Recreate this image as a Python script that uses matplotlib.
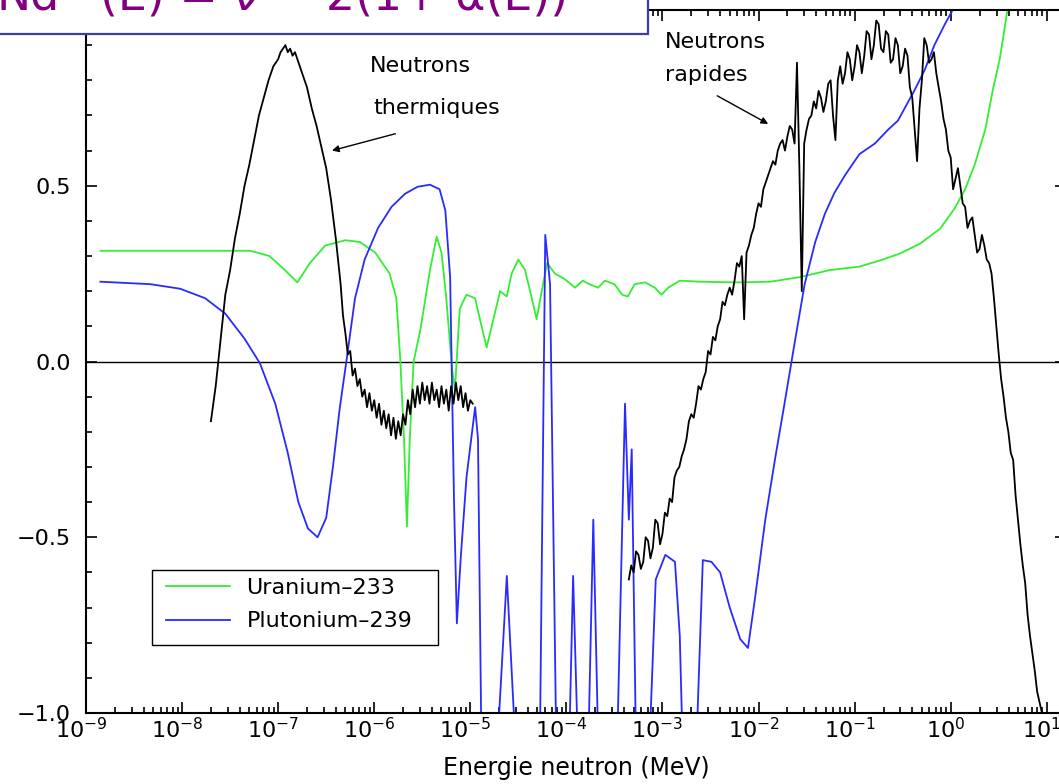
import numpy as np
import matplotlib
matplotlib.use("Agg")
import matplotlib.pyplot as plt
import matplotlib.transforms as mtransforms
from matplotlib.patches import Rectangle
from matplotlib.ticker import LogLocator, MultipleLocator, FuncFormatter, NullFormatter

plt.rcParams["font.family"] = ["DejaVu Sans"]
plt.rcParams["mathtext.fontset"] = "dejavusans"
plt.rcParams["axes.unicode_minus"] = True

# ---- data: (log10 of neutron energy in MeV, Nd) ----
# Unlabelled reference spectrum, thermal bump
black_thermal = [
    (-7.70, -0.17), (-7.65, -0.07), (-7.60, 0.06), (-7.55, 0.19), (-7.50, 0.26),
    (-7.45, 0.35), (-7.40, 0.42), (-7.35, 0.50), (-7.30, 0.56), (-7.25, 0.63),
    (-7.20, 0.70), (-7.15, 0.75), (-7.10, 0.80), (-7.05, 0.84), (-7.00, 0.86),
    (-6.975, 0.88), (-6.95, 0.89), (-6.925, 0.90), (-6.90, 0.88), (-6.875, 0.89),
    (-6.85, 0.87), (-6.825, 0.88), (-6.80, 0.86), (-6.75, 0.82), (-6.70, 0.78),
    (-6.65, 0.72), (-6.60, 0.67), (-6.55, 0.61), (-6.50, 0.55), (-6.45, 0.46),
    (-6.40, 0.35), (-6.35, 0.22), (-6.325, 0.13), (-6.30, 0.08), (-6.275, 0.02),
    (-6.25, 0.03), (-6.225, -0.04), (-6.20, -0.02), (-6.175, -0.07), (-6.15, -0.05),
    (-6.125, -0.10), (-6.10, -0.08), (-6.075, -0.13), (-6.05, -0.09), (-6.025, -0.14),
    (-6.00, -0.11), (-5.975, -0.16), (-5.95, -0.12), (-5.925, -0.18), (-5.90, -0.14),
    (-5.875, -0.19), (-5.85, -0.15), (-5.825, -0.21), (-5.80, -0.16), (-5.775, -0.22),
    (-5.75, -0.17), (-5.725, -0.21), (-5.70, -0.15), (-5.675, -0.18), (-5.65, -0.11),
    (-5.625, -0.15), (-5.60, -0.08), (-5.575, -0.13), (-5.55, -0.07), (-5.525, -0.12),
    (-5.50, -0.06), (-5.475, -0.11), (-5.45, -0.07), (-5.425, -0.12), (-5.40, -0.06),
    (-5.375, -0.11), (-5.35, -0.08), (-5.325, -0.13), (-5.30, -0.07), (-5.275, -0.12),
    (-5.25, -0.08), (-5.225, -0.14), (-5.20, -0.07), (-5.175, -0.12), (-5.15, -0.06),
    (-5.125, -0.11), (-5.10, -0.07), (-5.075, -0.13), (-5.05, -0.09), (-5.025, -0.14),
    (-5.00, -0.11), (-4.975, -0.12),
]

# Unlabelled reference spectrum, fast bump
black_fast = [
    (-3.350, -0.62), (-3.325, -0.58), (-3.300, -0.60), (-3.275, -0.54), (-3.250, -0.55),
    (-3.225, -0.59), (-3.200, -0.57), (-3.175, -0.50), (-3.150, -0.51), (-3.125, -0.56),
    (-3.100, -0.53), (-3.075, -0.45), (-3.050, -0.46), (-3.025, -0.52), (-3.000, -0.49),
    (-2.975, -0.43), (-2.950, -0.44), (-2.925, -0.39), (-2.900, -0.40), (-2.875, -0.33),
    (-2.850, -0.31), (-2.825, -0.30), (-2.800, -0.27), (-2.775, -0.25), (-2.750, -0.22),
    (-2.725, -0.17), (-2.700, -0.15), (-2.675, -0.16), (-2.650, -0.12), (-2.625, -0.07),
    (-2.600, -0.08), (-2.575, -0.05), (-2.550, -0.03), (-2.525, 0.03), (-2.500, 0.02),
    (-2.475, 0.07), (-2.450, 0.06), (-2.425, 0.10), (-2.400, 0.12), (-2.375, 0.17),
    (-2.350, 0.16), (-2.325, 0.19), (-2.300, 0.21), (-2.275, 0.19), (-2.250, 0.23),
    (-2.225, 0.28), (-2.200, 0.27), (-2.175, 0.30), (-2.150, 0.12), (-2.125, 0.31),
    (-2.100, 0.33), (-2.075, 0.36), (-2.050, 0.38), (-2.025, 0.42), (-2.000, 0.45),
    (-1.975, 0.44), (-1.950, 0.49), (-1.925, 0.51), (-1.900, 0.53), (-1.875, 0.55),
    (-1.850, 0.57), (-1.825, 0.56), (-1.800, 0.60), (-1.775, 0.62), (-1.750, 0.63),
    (-1.725, 0.60), (-1.700, 0.64), (-1.675, 0.67), (-1.650, 0.66), (-1.625, 0.62),
    (-1.600, 0.85), (-1.575, 0.55), (-1.550, 0.20), (-1.525, 0.62), (-1.500, 0.66),
    (-1.475, 0.69), (-1.450, 0.70), (-1.425, 0.74), (-1.400, 0.72), (-1.375, 0.77),
    (-1.350, 0.75), (-1.325, 0.71), (-1.300, 0.74), (-1.275, 0.79), (-1.250, 0.80),
    (-1.225, 0.70), (-1.200, 0.63), (-1.175, 0.80), (-1.150, 0.84), (-1.125, 0.79),
    (-1.100, 0.82), (-1.075, 0.88), (-1.050, 0.86), (-1.025, 0.80), (-1.000, 0.84),
    (-0.975, 0.90), (-0.950, 0.88), (-0.925, 0.82), (-0.900, 0.87), (-0.875, 0.94),
    (-0.850, 0.93), (-0.825, 0.86), (-0.800, 0.90), (-0.775, 0.97), (-0.750, 0.96),
    (-0.725, 0.89), (-0.700, 0.88), (-0.675, 0.94), (-0.650, 0.93), (-0.625, 0.85),
    (-0.600, 0.86), (-0.575, 0.92), (-0.550, 0.90), (-0.525, 0.82), (-0.500, 0.84),
    (-0.475, 0.89), (-0.450, 0.87), (-0.425, 0.78), (-0.400, 0.75), (-0.375, 0.66),
    (-0.350, 0.57), (-0.325, 0.72), (-0.300, 0.80), (-0.275, 0.92), (-0.250, 0.90),
    (-0.225, 0.85), (-0.200, 0.86), (-0.175, 0.88), (-0.150, 0.82), (-0.125, 0.78),
    (-0.100, 0.74), (-0.075, 0.69), (-0.050, 0.66), (-0.025, 0.60), (0.000, 0.58),
    (0.025, 0.49), (0.050, 0.52), (0.075, 0.55), (0.100, 0.50), (0.125, 0.45),
    (0.150, 0.44), (0.175, 0.38), (0.200, 0.40), (0.225, 0.41), (0.250, 0.36),
    (0.275, 0.31), (0.300, 0.32), (0.325, 0.36), (0.350, 0.33), (0.375, 0.29),
    (0.400, 0.28), (0.425, 0.25), (0.450, 0.18), (0.475, 0.10), (0.500, 0.02),
    (0.525, -0.05), (0.550, -0.10), (0.575, -0.16), (0.600, -0.20), (0.625, -0.26),
    (0.650, -0.28), (0.675, -0.38), (0.700, -0.45), (0.725, -0.52), (0.750, -0.58),
    (0.775, -0.63), (0.800, -0.72), (0.825, -0.78), (0.850, -0.83), (0.875, -0.88),
    (0.900, -0.94), (0.925, -0.97), (0.950, -1.00),
]

# Uranium-233
u233 = [
    (-8.85, 0.315), (-7.29, 0.315), (-7.09, 0.30), (-6.93, 0.26), (-6.80, 0.225),
    (-6.67, 0.28), (-6.51, 0.33), (-6.30, 0.345), (-6.15, 0.34), (-5.99, 0.31),
    (-5.84, 0.25), (-5.77, 0.18), (-5.73, 0.01), (-5.69, -0.22), (-5.66, -0.47),
    (-5.63, -0.22), (-5.59, 0.00), (-5.52, 0.09), (-5.42, 0.26), (-5.35, 0.355),
    (-5.30, 0.31), (-5.25, 0.18), (-5.19, -0.02), (-5.16, -0.08), (-5.11, 0.15),
    (-5.04, 0.19), (-4.95, 0.18), (-4.90, 0.12), (-4.83, 0.04), (-4.76, 0.12),
    (-4.69, 0.20), (-4.62, 0.185), (-4.57, 0.25), (-4.50, 0.29), (-4.43, 0.26),
    (-4.36, 0.18), (-4.31, 0.12), (-4.25, 0.21), (-4.20, 0.28), (-4.12, 0.25),
    (-4.02, 0.235), (-3.91, 0.21), (-3.83, 0.23), (-3.76, 0.22), (-3.67, 0.21),
    (-3.60, 0.23), (-3.50, 0.22), (-3.42, 0.19), (-3.36, 0.185), (-3.29, 0.22),
    (-3.18, 0.225), (-3.08, 0.21), (-3.01, 0.19), (-2.94, 0.21), (-2.82, 0.23),
    (-2.61, 0.227), (-2.19, 0.225), (-1.88, 0.227), (-1.57, 0.24), (-1.26, 0.26),
    (-0.95, 0.27), (-0.74, 0.287), (-0.53, 0.307), (-0.32, 0.335), (-0.11, 0.378),
    (0.04, 0.435), (0.15, 0.49), (0.25, 0.56), (0.36, 0.66), (0.44, 0.775),
    (0.51, 0.86), (0.56, 0.946), (0.59, 1.0), (0.64, 1.09),
]

# Plutonium-239 (resonance dips run below the lower axis limit)
pu239 = [
    (-8.85, 0.227), (-8.33, 0.22), (-8.02, 0.207), (-7.76, 0.18), (-7.55, 0.136),
    (-7.35, 0.065), (-7.19, -0.005), (-7.03, -0.12), (-6.90, -0.26), (-6.79, -0.40),
    (-6.69, -0.475), (-6.59, -0.50), (-6.50, -0.445), (-6.43, -0.30), (-6.36, -0.135),
    (-6.28, 0.02), (-6.20, 0.18), (-6.10, 0.29), (-5.96, 0.38), (-5.82, 0.44),
    (-5.68, 0.477), (-5.55, 0.497), (-5.42, 0.503), (-5.32, 0.49), (-5.26, 0.43),
    (-5.21, 0.24), (-5.17, -0.39), (-5.14, -0.745), (-5.10, -0.56), (-5.04, -0.33),
    (-4.95, -0.13), (-4.92, -0.22), (-4.88, -1.20), (-4.74, -1.20), (-4.62, -0.61),
    (-4.51, -1.20), (-4.28, -1.20), (-4.22, 0.36), (-4.17, 0.22), (-4.10, -1.20),
    (-3.98, -1.20), (-3.93, -0.61), (-3.87, -1.20), (-3.78, -1.20), (-3.72, -0.45),
    (-3.66, -1.20), (-3.48, -1.20), (-3.39, -0.12), (-3.35, -0.45), (-3.32, -0.25),
    (-3.27, -1.20), (-3.15, -1.20), (-3.07, -0.62), (-2.97, -0.55), (-2.87, -0.57),
    (-2.82, -0.78), (-2.78, -1.20), (-2.66, -1.20), (-2.58, -0.565), (-2.49, -0.57),
    (-2.40, -0.60), (-2.30, -0.70), (-2.19, -0.79), (-2.11, -0.815), (-2.04, -0.68),
    (-1.93, -0.45), (-1.83, -0.28), (-1.73, -0.12), (-1.62, 0.06), (-1.52, 0.22),
    (-1.41, 0.34), (-1.31, 0.42), (-1.21, 0.48), (-1.10, 0.53), (-0.95, 0.59),
    (-0.79, 0.62), (-0.65, 0.66), (-0.55, 0.685), (-0.48, 0.72), (-0.37, 0.775),
    (-0.27, 0.83), (-0.17, 0.90), (-0.06, 0.96), (0.02, 1.0), (0.09, 1.06),
]

series_labels = ["Uranium\u2013233", "Plutonium\u2013239"]
y_ticks = [-1.0, -0.5, 0.0, 0.5]


def unpack(pairs):
    arr = np.array(pairs)
    return 10.0 ** arr[:, 0], arr[:, 1]


W, H = 1059, 784
fig = plt.figure(figsize=(W / 100, H / 100), dpi=100)
ax = fig.add_axes([86 / W, 71 / H, 980 / W, 703 / H])

ax.axhline(0.0, color="black", lw=1.0, zorder=1)

for seg in (black_thermal, black_fast):
    x, y = unpack(seg)
    ax.plot(x, y, color="black", lw=1.3, zorder=3)

handles = []
x, y = unpack(u233)
handles += ax.plot(x, y, color="#33ee33", lw=1.3, zorder=2, label=series_labels[0])
x, y = unpack(pu239)
handles += ax.plot(x, y, color="#2a2aff", lw=1.3, zorder=2, label=series_labels[1])

ax.set_xscale("log")
ax.set_xlim(1e-9, 10 ** 1.2)
ax.set_ylim(-1.0, 1.0)

ax.xaxis.set_major_locator(LogLocator(base=10, numticks=30))
ax.xaxis.set_minor_locator(LogLocator(base=10, subs=np.arange(2, 10), numticks=300))
ax.xaxis.set_minor_formatter(NullFormatter())
ax.set_yticks(y_ticks)
ax.yaxis.set_minor_locator(MultipleLocator(0.1))
ax.yaxis.set_major_formatter(FuncFormatter(lambda v, _: f"{v:.1f}".replace("-", "\u2212")))

ax.tick_params(which="both", direction="in", top=True, right=True, width=1.2, labelsize=16)
ax.tick_params(which="major", length=8)
ax.tick_params(which="minor", length=4.5)
ax.tick_params(axis="x", pad=3)
ax.tick_params(axis="y", pad=11)
for sp in ax.spines.values():
    sp.set_linewidth(1.5)

# nudge the decade labels slightly to the left of their ticks
shift = mtransforms.ScaledTranslation(-5 / 100, 0, fig.dpi_scale_trans)
for lbl in ax.get_xticklabels():
    lbl.set_transform(lbl.get_transform() + shift)

ax.set_xlabel("Energie neutron (MeV)", fontsize=17, labelpad=10)

# region annotations
ax.text(10 ** -6.045, 0.84, "Neutrons", fontsize=16, va="center", ha="left")
ax.text(10 ** -6.01, 0.72, "thermiques", fontsize=16, va="center", ha="left")
ax.annotate("", xy=(10 ** -6.44, 0.60), xytext=(10 ** -5.78, 0.648),
            arrowprops=dict(arrowstyle="-|>", lw=1.0, color="black", mutation_scale=10,
                            shrinkA=0, shrinkB=0))
ax.text(10 ** -2.975, 0.91, "Neutrons", fontsize=16, va="center", ha="left")
ax.text(10 ** -2.975, 0.815, "rapides", fontsize=16, va="center", ha="left")
ax.annotate("", xy=(10 ** -1.90, 0.676), xytext=(10 ** -2.43, 0.756),
            arrowprops=dict(arrowstyle="-|>", lw=1.0, color="black", mutation_scale=10,
                            shrinkA=0, shrinkB=0))

# legend with a hand-sized frame
ax.add_artist(Rectangle((152 / W, 1 - 645 / H), 286 / W, 75 / H, transform=fig.transFigure,
                        facecolor="white", edgecolor="black", lw=1.0, zorder=4))
leg = ax.legend(handles=handles, loc="upper left", bbox_to_anchor=(166 / W, 1 - 578 / H),
                bbox_transform=fig.transFigure, fontsize=16, frameon=False,
                handlelength=2.9, borderpad=0.0, labelspacing=0.6, handletextpad=0.72,
                borderaxespad=0)
leg.set_zorder(5)

# formula banner at the top left
fig.add_artist(Rectangle((-5 / W, 1 - 34 / H), 653 / W, 60 / H, transform=fig.transFigure,
                         facecolor="white", edgecolor="#3c3cb0", lw=1.6, zorder=10))
fig.text(60 / W, 1 - 10 / H, "Nd", fontsize=33, color="#800080",
         va="baseline", ha="right", zorder=11)
fig.text(100 / W, 1 - 10 / H, "(E) = \u03bd \u2212 2(1+ \u03b1(E))", fontsize=33,
         color="#800080", va="baseline", ha="left", zorder=11)

fig.savefig("out.png", dpi=100)
